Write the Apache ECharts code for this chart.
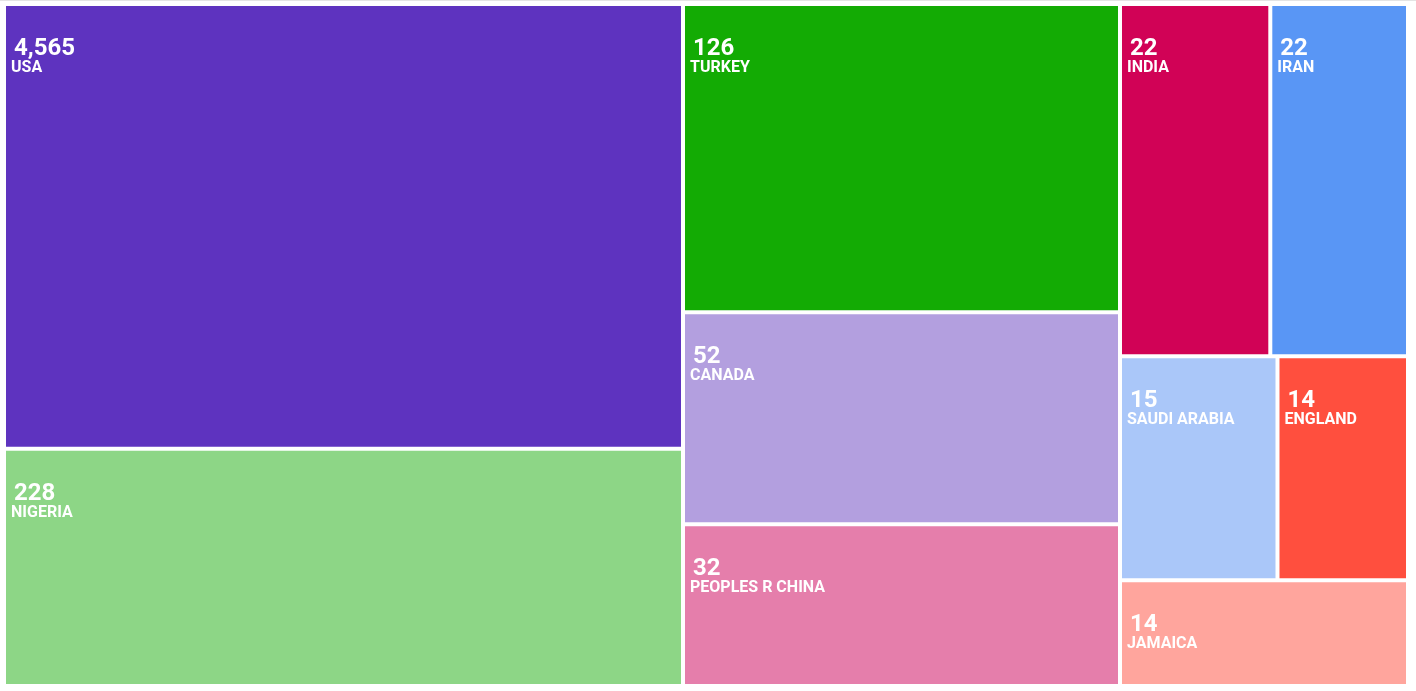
<!DOCTYPE html>
<html>
<head>
<meta charset="utf-8">
<script src="https://cdn.jsdelivr.net/npm/echarts@6/dist/echarts.min.js"></script>
<style>
  html, body { margin: 0; padding: 0; background: #fff; }
  #chart { width: 1416px; height: 691px; border-top: 1px solid #e4e4e4; box-sizing: border-box; }
</style>
</head>
<body>
<div id="chart"></div>
<script>
// Country names, shown counts, and the area weights of the tiles
const countries = ['USA', 'NIGERIA', 'TURKEY', 'CANADA', 'PEOPLES R CHINA', 'INDIA', 'IRAN', 'SAUDI ARABIA', 'ENGLAND', 'JAMAICA'];
const counts    = [4565, 228, 126, 52, 32, 22, 22, 15, 14, 14];
const areaWeights = [301951, 161127, 134727, 92644, 70663, 52951, 48512, 35280, 29232, 30442];
const colors = ['#5E33BF', '#8DD686', '#13AB04', '#B39FDF', '#E57EAB', '#D10256', '#5996F5', '#AAC7F9', '#FF4F3E', '#FFA59D'];

const data = countries.map((name, i) => ({
  name: name,
  value: [areaWeights[i], counts[i]],
  itemStyle: { color: colors[i] }
}));

const chart = echarts.init(document.getElementById('chart'), null, { renderer: 'canvas' });
chart.setOption({
  animation: false,
  backgroundColor: '#fff',
  series: [{
    type: 'treemap',
    left: 4, top: 3, width: 1404, height: 682,
    roam: false,
    nodeClick: false,
    sort: false,
    squareRatio: 0.5 * (1 + Math.sqrt(5)),
    breadcrumb: { show: false },
    itemStyle: { borderWidth: 2, borderColor: '#fff', gapWidth: 0 },
    levels: [
      { itemStyle: { borderWidth: 0, gapWidth: 0 } },
      { itemStyle: { borderWidth: 2, borderColor: '#fff', gapWidth: 0 } }
    ],
    label: {
      show: true,
      position: 'insideTopLeft',
      distance: 0,
      padding: [33, 0, 0, 5],
      color: '#fff',
      fontFamily: 'Roboto',
      formatter: function (p) {
        return '{num|' + p.value[1].toLocaleString('en-US') + '}\n{name|' + p.name + '}';
      },
      rich: {
        num: { fontSize: 24, fontWeight: 'bold', color: '#fff', fontFamily: 'Roboto', lineHeight: 20, padding: [0, 0, 0, 3] },
        name: { fontSize: 16, fontWeight: 'bold', color: '#fff', fontFamily: 'Roboto', lineHeight: 18 }
      }
    },
    emphasis: { disabled: true },
    data: data
  }]
});
</script>
</body>
</html>
